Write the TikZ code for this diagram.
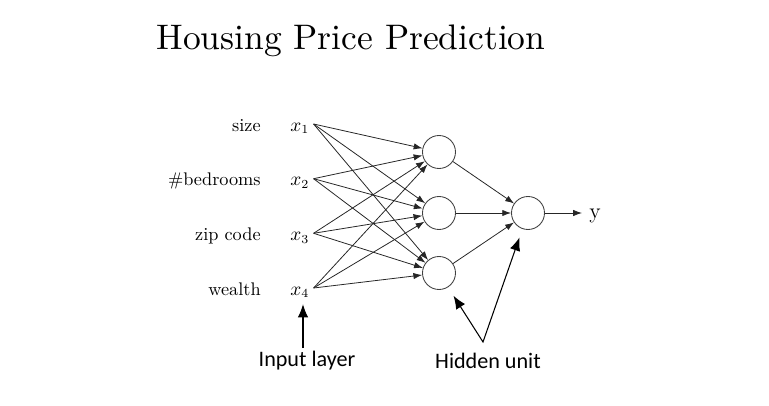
\documentclass[tikz,border=0pt]{standalone}
\usepackage{amsmath}
\usepackage{fontspec}
\usepackage{tikz}
\usetikzlibrary{arrows.meta, positioning, calc}
\newfontfamily\annofont{Carlito}

\begin{document}
\begin{tikzpicture}[x=0.02cm, y=-0.02cm,
  neuron/.style={circle, draw=black!75, line width=0.5pt, minimum size=0.66cm, inner sep=0pt},
  feat/.style={anchor=base east, inner sep=0pt, font=\fontsize{10.4}{12}\selectfont},
  inp/.style={anchor=base west, inner sep=0pt, font=\fontsize{10.6}{12}\selectfont},
  conn/.style={-{Latex[length=5pt, width=3.6pt]}, line width=0.45pt, draw=black!85},
  anno/.style={-{Latex[length=7.5pt, width=6pt]}, line width=0.6pt},
  annotext/.style={font=\annofont\fontsize{12.6}{15}\selectfont}]
\useasboundingbox (0,0) rectangle (769,406);
% --- title ---
\node[anchor=base, inner sep=0pt] (title) at (351,49) {\scalebox{2.02}{Housing Price Prediction}};
% --- input layer ---
\node[feat] (f1) at (261,131) {size};
\node[feat] (f2) at (261,185.7) {\#bedrooms};
\node[feat] (f3) at (261,240.3) {zip code};
\node[feat] (f4) at (261,295) {wealth};
\node[inp] (x1) at (290,131) {$x_1$};
\node[inp] (x2) at (290,185.7) {$x_2$};
\node[inp] (x3) at (290,240.3) {$x_3$};
\node[inp] (x4) at (290,295) {$x_4$};
% --- hidden and output units ---
\node[neuron] (h1) at (439,152) {};
\node[neuron] (h2) at (439,213) {};
\node[neuron] (h3) at (439,273) {};
\node[neuron] (o) at (528,213) {};
\node[anchor=base west, inner sep=0pt, font=\fontsize{12.5}{14}\selectfont] (yout) at (589,218) {y};
% --- connections ---
\foreach \i in {1,...,4}
  \foreach \j in {1,2,3}
    \draw[conn] ($(x\i.base east)+(4,-7)$) -- (h\j);
\foreach \j in {1,2,3}
  \draw[conn] (h\j) -- (o);
\draw[conn, shorten >=0.14cm] (o) -- (o -| yout.west);
% --- annotations ---
\node[annotext] (il) at (307,361) {Input layer};
\node[annotext] (hu) at (488,361) {Hidden unit};
\coordinate (ilp) at (303,348);
\coordinate (hup) at (483,342);
\draw[anno, shorten >=0.12cm] (ilp) -- (ilp |- x4.south);
\draw[anno, {Latex[length=7.5pt, width=6pt]}-{Latex[length=7.5pt, width=6pt]}, shorten <=0.2cm, shorten >=0.18cm] (h3) -- (hup) -- (o);
\end{tikzpicture}
\end{document}
